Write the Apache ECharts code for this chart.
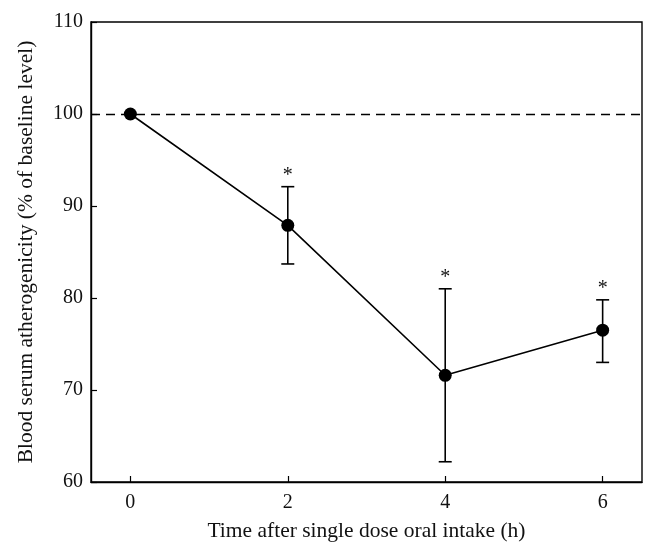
<!DOCTYPE html>
<html><head><meta charset="utf-8">
<script src="https://cdn.jsdelivr.net/npm/echarts@6/dist/echarts.min.js"></script>
<style>html,body{margin:0;padding:0;background:#fff}#c{width:657px;height:558px}</style>
</head><body><div id="c"></div>
<script>
const hours = [0, 2, 4, 6];
const means = [100, 87.9, 71.6, 76.5];
const errLow = [null, 83.7, 62.2, 73.0];
const errHigh = [null, 92.1, 81.0, 79.8];
const signif = ['', '*', '*', '*'];
const xTicks = [0, 2, 4, 6];
const yTicks = [60, 70, 80, 90, 100, 110];
const baseline = 100;

const font = '"Liberation Serif", "DejaVu Serif", serif';
const chart = echarts.init(document.getElementById('c'));
const errData = hours.map((h, i) => [h, errLow[i], errHigh[i], signif[i]]).filter(d => d[1] != null);

chart.setOption({
  animation: false,
  grid: { left: 91, right: 15, top: 22, bottom: 76, show: true, borderColor: '#000', borderWidth: 1.4 },
  xAxis: {
    type: 'value', min: -0.5, max: 6.5,
    name: 'Time after single dose oral intake (h)', nameLocation: 'middle', nameGap: 38,
    nameTextStyle: { fontFamily: font, fontSize: 21.5, color: '#111' },
    axisLine: { onZero: false, lineStyle: { color: '#000', width: 1.4 } },
    axisTick: { inside: true, length: 6, customValues: xTicks, lineStyle: { color: '#000', width: 1.2 } },
    axisLabel: { customValues: xTicks, fontFamily: font, fontSize: 20, color: '#111', margin: 11 },
    splitLine: { show: false }
  },
  yAxis: {
    type: 'value', min: 60, max: 110, interval: 10,
    name: 'Blood serum atherogenicity (% of baseline level)', nameLocation: 'middle', nameGap: 54,
    nameTextStyle: { fontFamily: font, fontSize: 21.5, color: '#111' },
    axisLine: { show: true, onZero: false, lineStyle: { color: '#000', width: 1.4 } },
    axisTick: { inside: true, length: 6, lineStyle: { color: '#000', width: 1.2 } },
    axisLabel: { fontFamily: font, fontSize: 20, color: '#111', margin: 8,
      formatter: v => yTicks.includes(v) ? String(v) : '' },
    splitLine: { show: false }
  },
  series: [
    {
      type: 'line', data: hours.map((h, i) => [h, means[i]]),
      symbol: 'circle', symbolSize: 13, z: 5,
      itemStyle: { color: '#000' }, lineStyle: { color: '#000', width: 1.6 },
      markLine: {
        silent: true, symbol: 'none', label: { show: false },
        lineStyle: { color: '#000', type: [9, 6], width: 1.4 },
        data: [{ yAxis: baseline }]
      }
    },
    {
      type: 'custom', z: 4,
      data: errData,
      renderItem: function (params, api) {
        const x = api.value(0);
        const lo = api.coord([x, api.value(1)]);
        const hi = api.coord([x, api.value(2)]);
        const w = 6.5;
        const st = { stroke: '#000', lineWidth: 1.6 };
        return {
          type: 'group',
          children: [
            { type: 'line', shape: { x1: lo[0], y1: lo[1], x2: hi[0], y2: hi[1] }, style: st },
            { type: 'line', shape: { x1: lo[0] - w, y1: lo[1], x2: lo[0] + w, y2: lo[1] }, style: st },
            { type: 'line', shape: { x1: hi[0] - w, y1: hi[1], x2: hi[0] + w, y2: hi[1] }, style: st },
            { type: 'text', x: hi[0], y: hi[1] - 1, style: { text: api.value(3), fontFamily: font, fontSize: 20, fill: '#111', align: 'center', verticalAlign: 'bottom' } }
          ]
        };
      }
    }
  ]
});
</script></body></html>
